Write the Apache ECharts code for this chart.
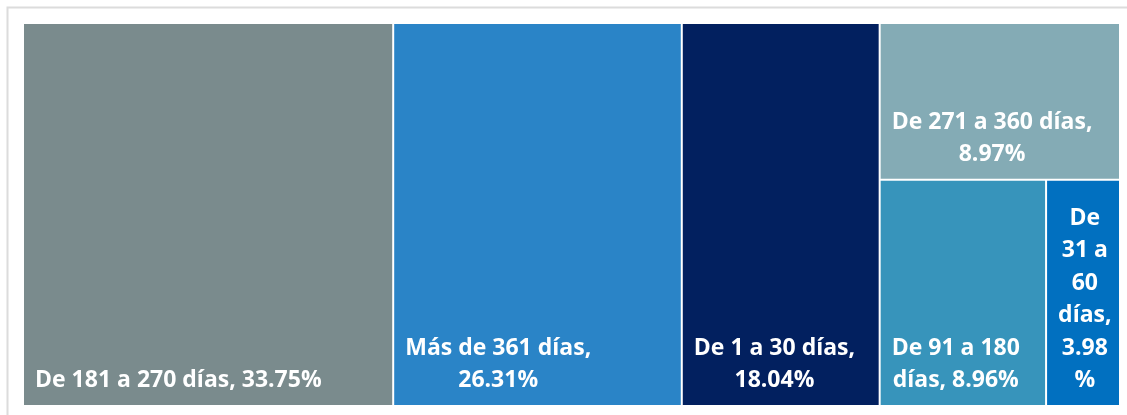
<!DOCTYPE html>
<html>
<head>
<meta charset="utf-8">
<script src="https://cdn.jsdelivr.net/npm/echarts@6/dist/echarts.min.js"></script>
<style>
  html, body { margin: 0; padding: 0; background: #fff; }
  #chart { width: 1127px; height: 415px; }
</style>
</head>
<body>
<div id="chart"></div>
<script>
// tramos de antigüedad y su peso (%)
const categories = ['De 181 a 270 días', 'Más de 361 días', 'De 1 a 30 días', 'De 271 a 360 días', 'De 91 a 180 días', 'De 31 a 60 días'];
const values = [33.75, 26.31, 18.04, 8.97, 8.96, 3.98];
const colors = ['#7a8b8d', '#2a84c7', '#02205f', '#84abb5', '#3794bb', '#0170c0'];
// ancho máximo de línea de cada etiqueta (0 = una sola línea)
const wrapWidths = [0, 205, 185, 215, 145, 56];

const labelFont = 'bold 23px "Open Sans"';

// corta la etiqueta en líneas según el ancho disponible
const ctx = document.createElement('canvas').getContext('2d');
ctx.font = labelFont;
function wrapLabel(name, value, maxW) {
  const tokens = (name + ', ' + value).split(' ');
  tokens.push('%');
  const lines = [];
  let line = '';
  tokens.forEach(function (tk) {
    const glue = tk === '%' || line === '' ? '' : ' ';
    const test = line + glue + tk;
    if (maxW && line !== '' && ctx.measureText(test).width > maxW) {
      lines.push(line);
      line = tk;
    } else {
      line = test;
    }
  });
  lines.push(line);
  return lines;
}

const labelLines = categories.map(function (name, i) {
  return wrapLabel(name, values[i], wrapWidths[i]);
});

const chart = echarts.init(document.getElementById('chart'));

const option = {
  animation: false,
  graphic: [
    {
      type: 'polyline',
      silent: true,
      shape: { points: [[7.5, 430], [7.5, 7.5], [1127, 7.5]] },
      style: { fill: null, stroke: '#dcdcdc', lineWidth: 2 },
    },
  ],
  series: [
    {
      type: 'treemap',
      left: 24,
      top: 24,
      right: 8,
      bottom: 10,
      roam: false,
      nodeClick: false,
      squareRatio: 1,
      breadcrumb: { show: false },
      sort: 'desc',
      levels: [
        {
          itemStyle: { gapWidth: 2, borderWidth: 0, borderColor: '#fff' },
        },
      ],
      label: {
        show: true,
        padding: 0,
        color: '#fff',
        fontFamily: 'Open Sans',
        fontWeight: 'bold',
        fontSize: 23,
        lineHeight: 32.5,
        align: 'center',
        verticalAlign: 'bottom',
        overflow: 'none',
        offset: [0, -8],
        formatter: function (p) {
          const i = categories.indexOf(p.name);
          return i < 0 ? '' : labelLines[i].join('\n');
        },
      },
      data: categories.map(function (name, i) {
        // bloque alineado a la izquierda, líneas centradas entre sí
        let blockW = 0;
        labelLines[i].forEach(function (l) {
          blockW = Math.max(blockW, ctx.measureText(l).width);
        });
        return {
          name: name,
          value: values[i],
          itemStyle: { color: colors[i] },
          label: { position: [11 + blockW / 2, '100%'] },
        };
      }),
    },
  ],
};

chart.setOption(option);
window.addEventListener('resize', () => {
  chart.resize();
});
</script>
</body>
</html>
